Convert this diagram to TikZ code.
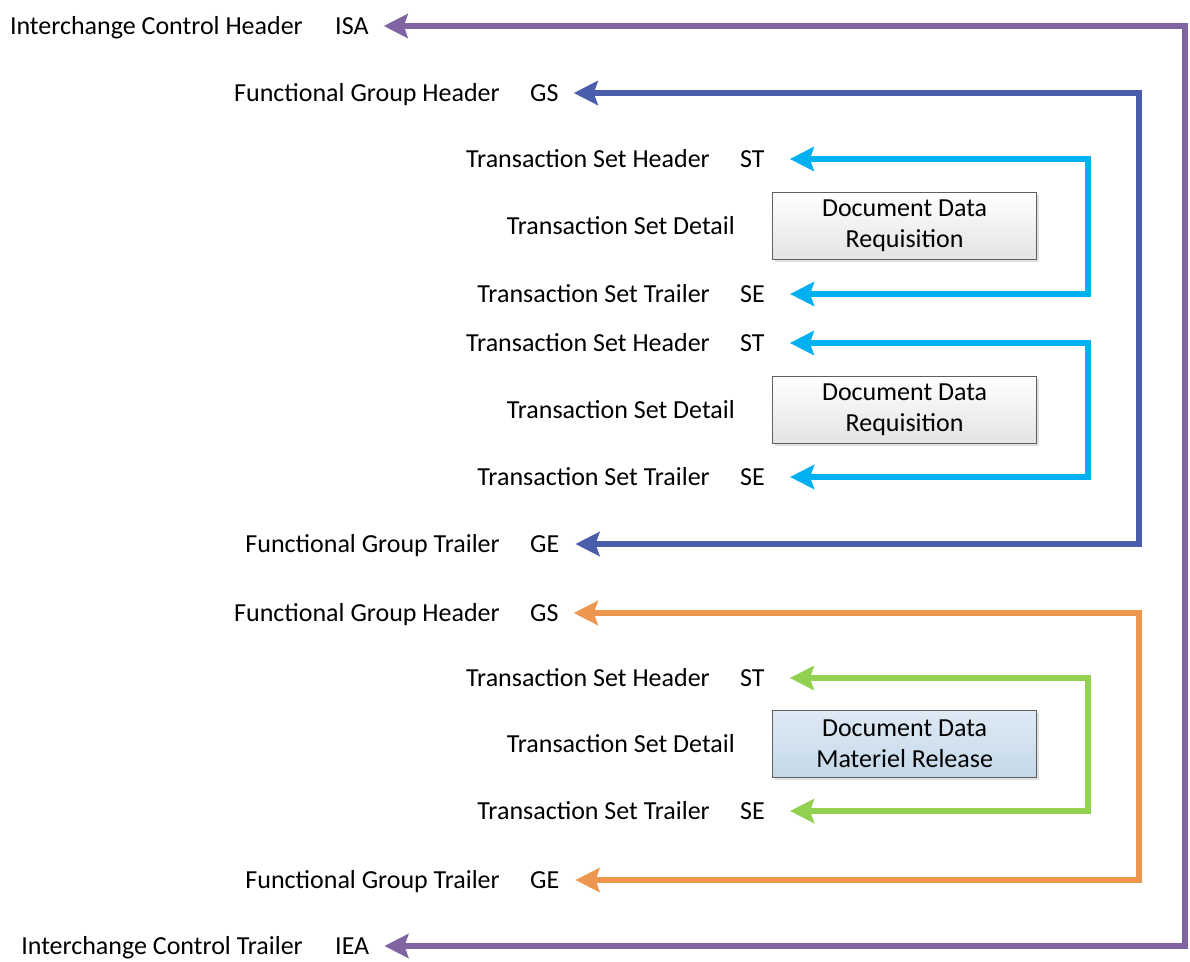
\documentclass[tikz,border=0pt]{standalone}
\usepackage{fontspec}
\setmainfont{Carlito}
\usetikzlibrary{positioning,arrows.meta,shadows}

\definecolor{isaviolet}{RGB}{128,100,162}
\definecolor{gsblue}{RGB}{74,94,172}
\definecolor{stcyan}{RGB}{0,176,240}
\definecolor{gsorange}{RGB}{236,150,78}
\definecolor{stgreen}{RGB}{146,208,80}

\tikzset{
  seg/.style={inner sep=0pt, text height=17pt, text depth=0pt,
    font={\fontsize{26}{31}\selectfont}},
  code/.style={seg, anchor=west},
  segname/.style={seg, anchor=east},
  docbox/.style={draw=gray!75!black, line width=1.2pt, minimum width=264pt,
    minimum height=67pt, align=center, top color=white,
    bottom color=gray!22, drop shadow={opacity=0.25, shadow xshift=2pt, shadow yshift=-2pt},
    font={\fontsize{26}{31}\selectfont}},
  envelope/.style={line width=6pt, <->,
    >={Stealth[length=24pt, width=24pt, inset=4pt]}},
}

\begin{document}
\begin{tikzpicture}[x=1pt, y=-1pt]

\useasboundingbox (0,0) rectangle (1190,961);

% segment codes
\node [code] (isa) at (335,26) {ISA};
\node [code] (gs1) at (530,93) {GS};
\node [code] (st1) at (740,159) {ST};
\node [code] (se1) at (740,294) {SE};
\node [code] (st2) at (740,343) {ST};
\node [code] (se2) at (740,477) {SE};
\node [code] (ge1) at (530,544) {GE};
\node [code] (gs2) at (530,613) {GS};
\node [code] (st3) at (740,678) {ST};
\node [code] (se3) at (740,811) {SE};
\node [code] (ge2) at (530,880) {GE};
\node [code] (iea) at (335,946) {IEA};

% segment names
\node [segname, left=32pt of isa.west] (isa-name) {Interchange Control Header};
\node [segname, left=30pt of gs1.west] (gs1-name) {Functional Group Header};
\node [segname, left=30pt of st1.west] (st1-name) {Transaction Set Header};
\node [segname, left=30pt of se1.west] (se1-name) {Transaction Set Trailer};
\node [segname, left=30pt of st2.west] (st2-name) {Transaction Set Header};
\node [segname, left=30pt of se2.west] (se2-name) {Transaction Set Trailer};
\node [segname, left=30pt of ge1.west] (ge1-name) {Functional Group Trailer};
\node [segname, left=30pt of gs2.west] (gs2-name) {Functional Group Header};
\node [segname, left=30pt of st3.west] (st3-name) {Transaction Set Header};
\node [segname, left=30pt of se3.west] (se3-name) {Transaction Set Trailer};
\node [segname, left=30pt of ge2.west] (ge2-name) {Functional Group Trailer};
\node [segname, left=32pt of iea.west] (iea-name) {Interchange Control Trailer};

% transaction set details
\node [segname] (det1) at (735,226) {Transaction Set Detail};
\node [segname] (det2) at (735,410) {Transaction Set Detail};
\node [segname] (det3) at (735,744) {Transaction Set Detail};

\node [docbox, anchor=west, right=37pt of det1.east] (doc1) {Document Data\\Requisition};
\node [docbox, anchor=west, right=37pt of det2.east] (doc2) {Document Data\\Requisition};
\node [docbox, anchor=west, right=37pt of det3.east, top color={rgb,255:red,222;green,234;blue,244},
  bottom color={rgb,255:red,196;green,216;blue,233}] (doc3) {Document Data\\Materiel Release};

% envelopes
\coordinate (isa-r) at (1185,26);
\coordinate (gs1-r) at (1139,93);
\coordinate (st1-r) at (1088,159);
\coordinate (st2-r) at (1088,343);
\coordinate (gs2-r) at (1139,613);
\coordinate (st3-r) at (1088,678);

\draw [envelope, stcyan, shorten <=25pt, shorten >=25pt] (st1.east) -- (st1-r) |- (se1.east);
\draw [envelope, stcyan, shorten <=25pt, shorten >=25pt] (st2.east) -- (st2-r) |- (se2.east);
\draw [envelope, stgreen, shorten <=25pt, shorten >=25pt] (st3.east) -- (st3-r) |- (se3.east);
\draw [envelope, gsblue, shorten <=15pt, shorten >=16pt] (gs1.east) -- (gs1-r) |- (ge1.east);
\draw [envelope, gsorange, shorten <=15pt, shorten >=16pt] (gs2.east) -- (gs2-r) |- (ge2.east);
\draw [envelope, isaviolet, shorten <=15pt, shorten >=15pt] (isa.east) -- (isa-r) |- (iea.east);

\end{tikzpicture}
\end{document}
